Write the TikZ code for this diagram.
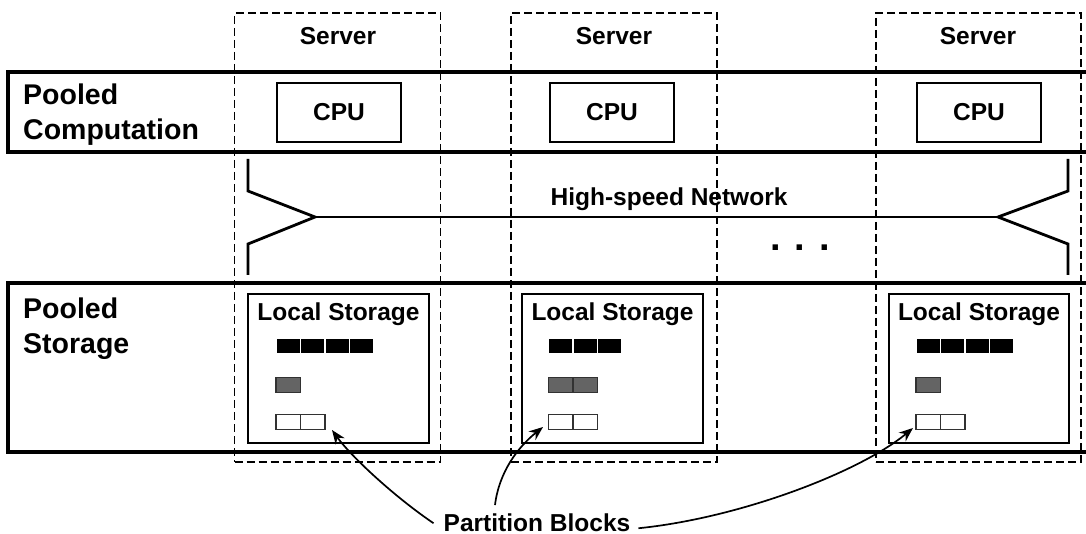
\documentclass[tikz,border=0pt]{standalone}
\usepackage{fontspec}
\setmainfont{Liberation Sans}
\usetikzlibrary{arrows.meta}

\definecolor{blockgray}{RGB}{100,100,100}
\definecolor{edgegray}{RGB}{50,50,50}

\tikzset{
  lbl/.style={font=\fontsize{24.5}{29}\selectfont\bfseries, inner sep=0pt},
  biglbl/.style={font=\fontsize{28.5}{35}\selectfont\bfseries, inner sep=0pt, align=left, anchor=north west},
  band/.style={line width=4.5pt},
  serverbox/.style={draw, dash pattern=on 8pt off 4pt, line width=1.7pt,
    minimum width=206pt, minimum height=449pt, inner sep=0pt},
  cpubox/.style={lbl, draw, line width=1.7pt, minimum width=124pt, minimum height=59pt},
  storebox/.style={draw, line width=2.3pt, minimum width=181pt, minimum height=149pt, inner sep=0pt},
  blk/.style={minimum width=24.5pt, minimum height=15.5pt, inner sep=0pt, line width=1.1pt},
  fullblk/.style={blk, fill=black, draw=white},
  halfblk/.style={blk, fill=blockgray, draw=edgegray},
  freeblk/.style={blk, fill=white, draw=edgegray},
  netline/.style={line width=2.8pt},
  pointer/.style={line width=1.7pt, -{Stealth[length=14pt,width=11pt]}},
}

\begin{document}
\begin{tikzpicture}[x=1pt,y=-1pt]
\useasboundingbox (0,0) rectangle (1086,534);

% pooled computation and pooled storage bands
\draw[band] (1086,72) -- (8,72) -- (8,152) -- (1086,152);
\draw[band] (1086,283) -- (8,283) -- (8,452) -- (1086,452);
\node[biglbl] (pcomp) at (23,84) {Pooled\\Computation};
\node[biglbl] (pstor) at (23,298) {Pooled\\Storage};

% servers
\node[serverbox] (srv1) at (337.5,237.5) {};
\node[serverbox] (srv2) at (614,237.5) {};
\node[serverbox, minimum width=205pt] (srv3) at (978.5,237.5) {};
\node[lbl, anchor=base] (srvl1) at (338,45) {Server};
\node[lbl, anchor=base] (srvl2) at (614,45) {Server};
\node[lbl, anchor=base] (srvl3) at (978,45) {Server};

% CPUs
\node[cpubox] (cpu1) at (339,112.5) {CPU};
\node[cpubox] (cpu2) at (612,112.5) {CPU};
\node[cpubox] (cpu3) at (979,112.5) {CPU};

% high-speed network
\coordinate (nl0) at (248,159);
\coordinate (nl1) at (248,191);
\coordinate (nlp) at (315,217);
\coordinate (nl2) at (248,244);
\coordinate (nl3) at (248,275);
\coordinate (nr0) at (1068,159);
\coordinate (nr1) at (1068,191);
\coordinate (nrp) at (998,217);
\coordinate (nr2) at (1068,244);
\coordinate (nr3) at (1068,275);
\draw[netline, line join=miter] (nl0) -- (nl1) -- (nlp) -- (nl2) -- (nl3);
\draw[netline, line join=miter] (nr0) -- (nr1) -- (nrp) -- (nr2) -- (nr3);
\draw[line width=1.8pt] (nlp) -- (nrp);
\node[lbl, anchor=base] (net) at (669,206) {High-speed Network};
\node[font=\fontsize{38}{40}\selectfont\bfseries, inner sep=0pt, anchor=base] (dots) at (800,251) {. . .};

% local storage
\node[storebox] (ls1) at (338.5,368.5) {};
\node[storebox] (ls2) at (612.5,368.5) {};
\node[storebox, minimum width=180pt] (ls3) at (979,368.5) {};
\node[lbl, anchor=base] (lsl1) at (338.5,320) {Local Storage};
\node[lbl, anchor=base] (lsl2) at (612.5,320) {Local Storage};
\node[lbl, anchor=base] (lsl3) at (979,320) {Local Storage};

% partition blocks: server / left edge / full / half / free
\foreach \s/\x/\nf/\nh/\nw in {1/276/4/1/2, 2/548.5/3/2/2, 3/916/4/1/2} {
  \foreach \i in {1,...,\nf}
    \node[fullblk] (f\s\i) at ({\x+12.25+24.5*(\i-1)},346) {};
  \foreach \i in {1,...,\nh}
    \node[halfblk] (h\s\i) at ({\x+12.25+24.5*(\i-1)},385) {};
  \foreach \i in {1,...,\nw}
    \node[freeblk] (w\s\i) at ({\x+12.25+24.5*(\i-1)},422) {};
}

% callout
\node[lbl, anchor=base] (pb) at (537,531) {Partition Blocks};
\coordinate (t1) at (332,430);
\coordinate (t2) at (543,427);
\coordinate (t3) at (913,428);
\draw[pointer] ([shift={(-10pt,-1pt)}]pb.west) .. controls (392,495) and (350,455) .. (t1);
\draw[pointer] ([shift={(-42pt,8pt)}]pb.north) .. controls (499,472) and (518,447) .. (t2);
\draw[pointer] ([shift={(8pt,-6pt)}]pb.east) .. controls (740,518) and (860,472) .. (t3);
\end{tikzpicture}
\end{document}
